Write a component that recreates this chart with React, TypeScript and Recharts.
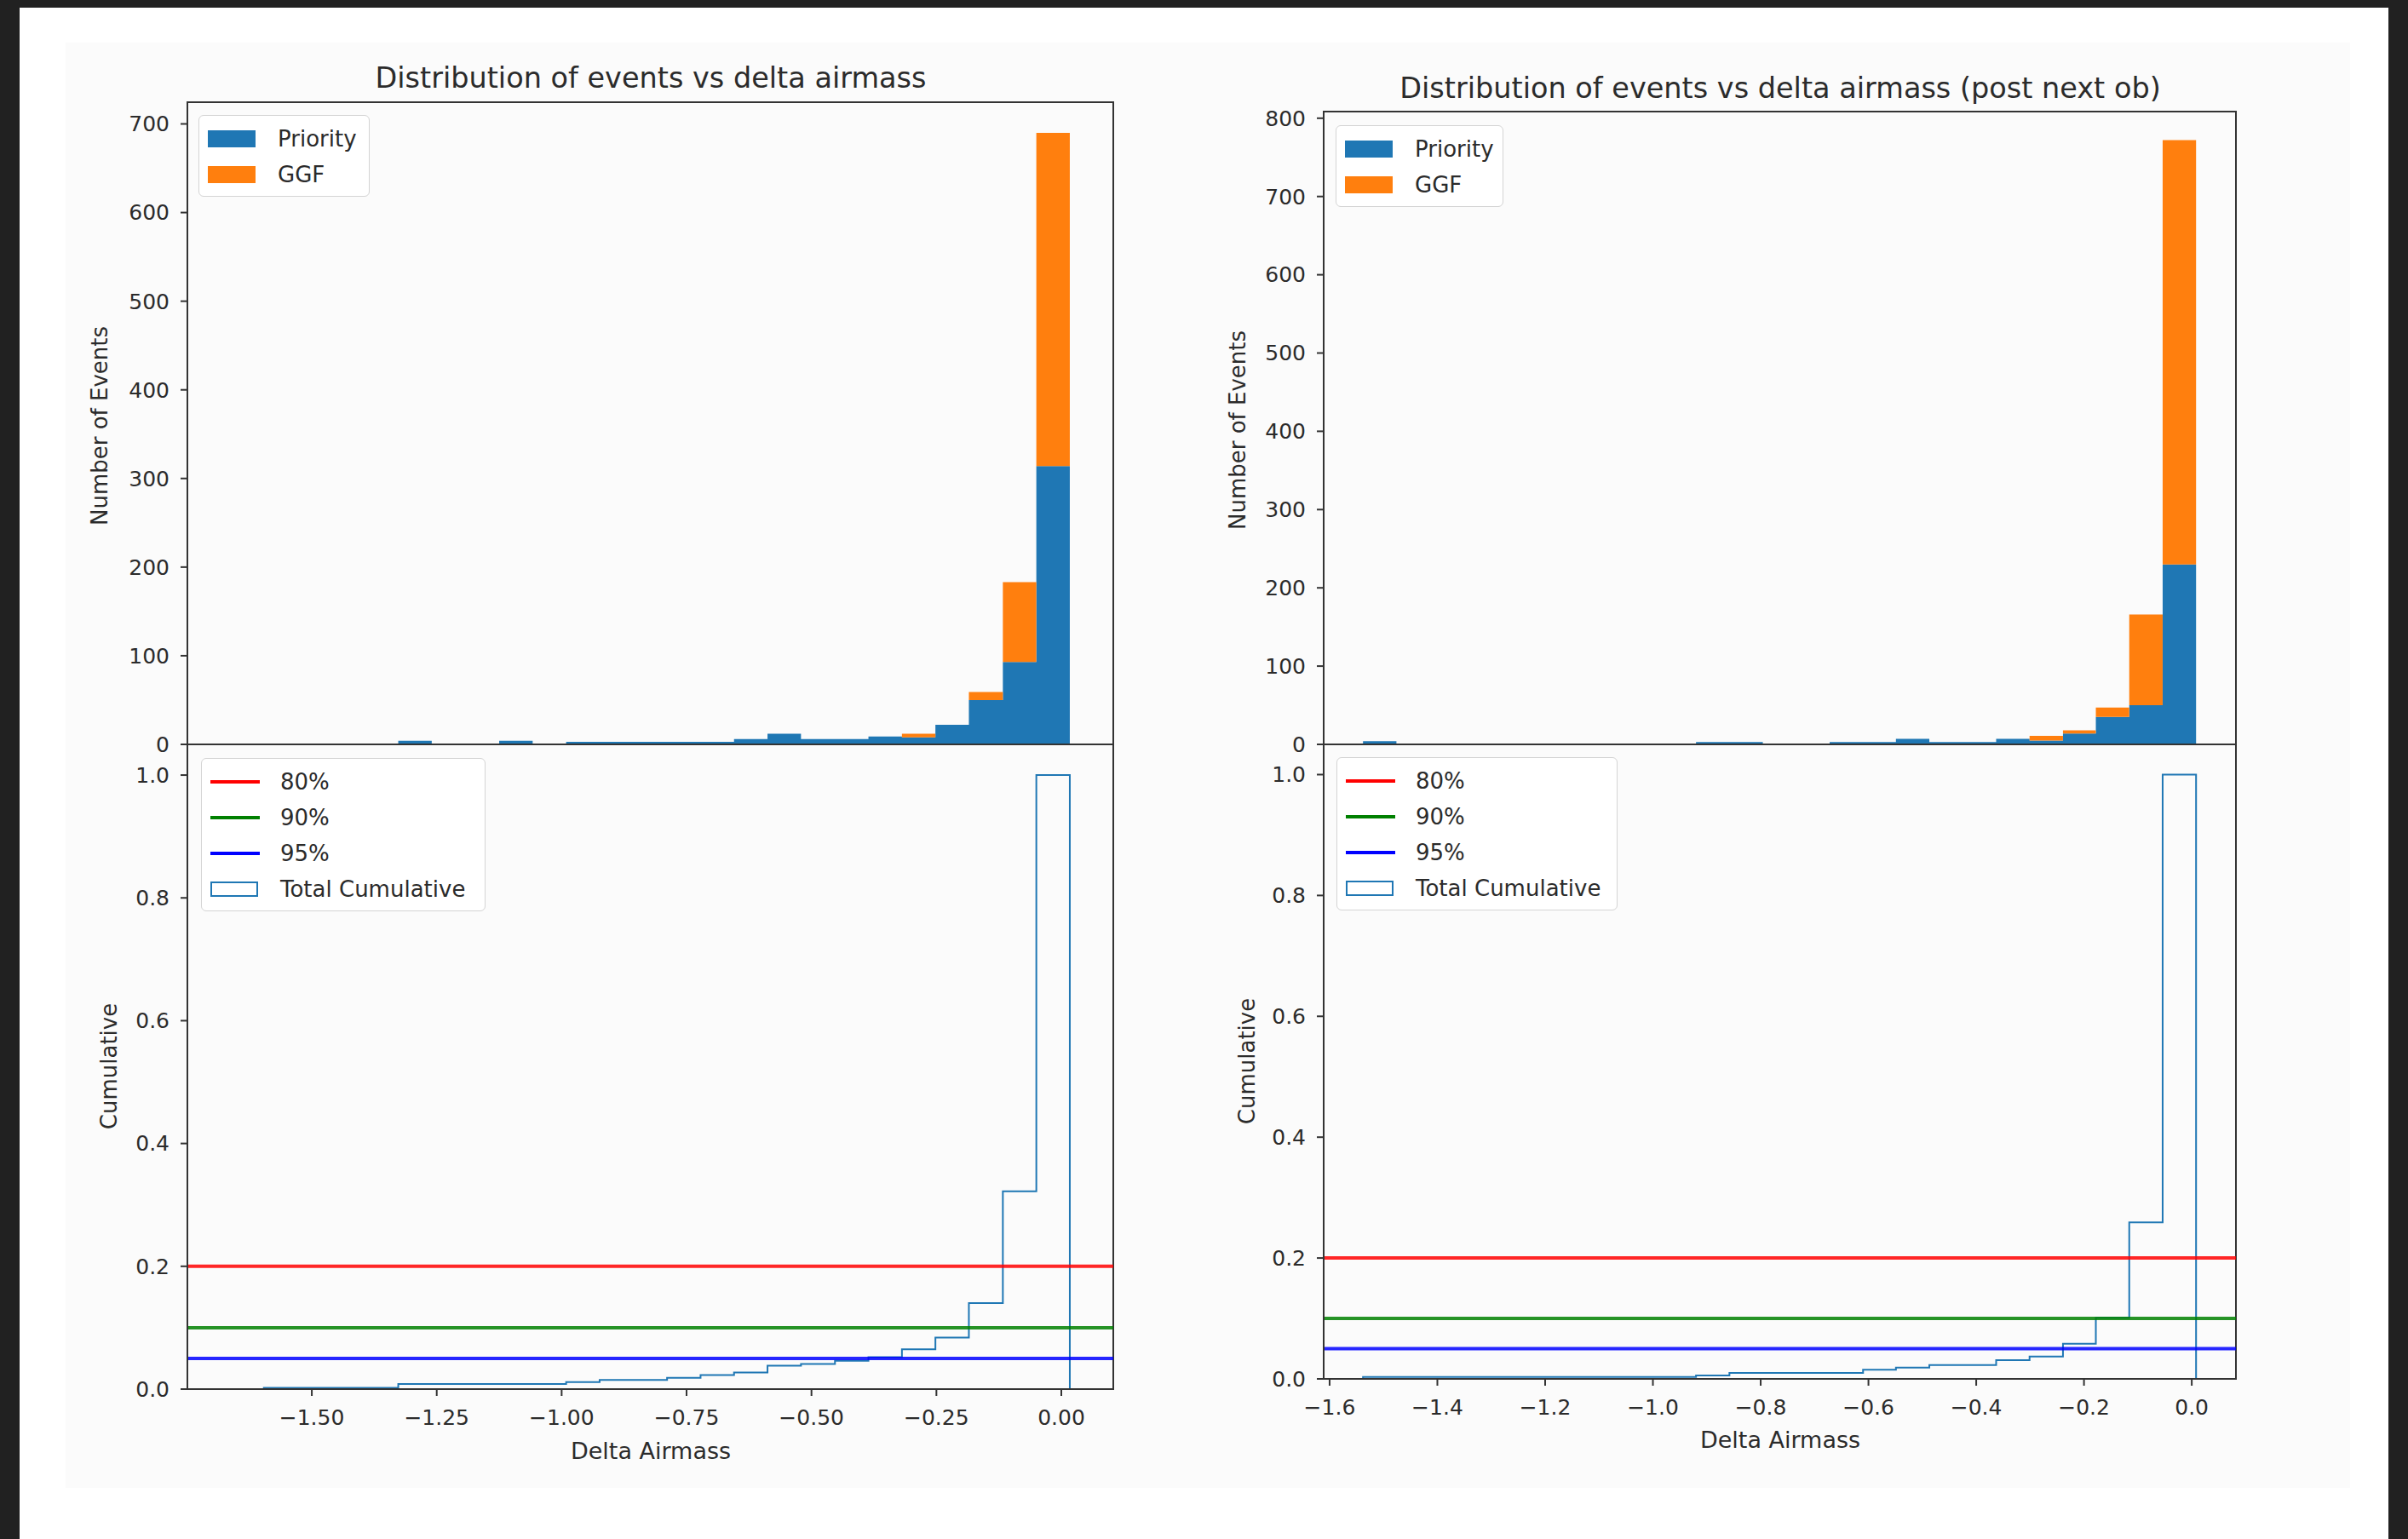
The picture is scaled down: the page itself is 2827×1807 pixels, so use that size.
import React from "react";
import {
  Area,
  ComposedChart,
  Legend,
  Line,
  ReferenceArea,
  ReferenceLine,
  XAxis,
  YAxis,
} from "recharts";

// bin edges (25 bins each)
const LEFT_EDGES = [
  -1.663, -1.596, -1.529, -1.461, -1.394, -1.327, -1.26, -1.193, -1.125, -1.058,
  -0.991, -0.924, -0.857, -0.789, -0.722, -0.655, -0.588, -0.521, -0.453, -0.386,
  -0.319, -0.252, -0.185, -0.117, -0.05, 0.017,
];
const LEFT_PRIORITY = [0, 0, 0, 0, 0, 4, 0, 0, 4, 0, 3, 3, 3, 3, 3, 6, 12, 6, 6, 9, 8, 22, 50, 93, 314];
const LEFT_GGF = [0, 0, 0, 0, 0, 0, 0, 0, 0, 0, 0, 0, 0, 0, 0, 0, 0, 0, 0, 0, 4, 0, 9, 90, 376];
const LEFT_CUMULATIVE = [
  null, 0.002, 0.002, 0.002, 0.002, 0.0083, 0.0083, 0.0083, 0.0083, 0.0083, 0.0115, 0.0148, 0.0148,
  0.0185, 0.023, 0.027, 0.038, 0.041, 0.046, 0.052, 0.065, 0.084, 0.14, 0.322, 1.0,
];

const RIGHT_EDGES = [
  -1.538, -1.476, -1.414, -1.352, -1.291, -1.229, -1.167, -1.105, -1.043, -0.981,
  -0.92, -0.858, -0.796, -0.734, -0.672, -0.61, -0.549, -0.487, -0.425, -0.363,
  -0.301, -0.239, -0.178, -0.116, -0.054, 0.008,
];
const RIGHT_PRIORITY = [4, 0, 0, 0, 0, 0, 0, 0, 0, 0, 3, 3, 0, 0, 3, 3, 7, 3, 3, 7, 5, 14, 35, 50, 230];
const RIGHT_GGF = [0, 0, 0, 0, 0, 0, 0, 0, 0, 0, 0, 0, 0, 0, 0, 0, 0, 0, 0, 0, 6, 4, 12, 116, 542];
const RIGHT_CUMULATIVE = [
  0.003, 0.003, 0.003, 0.003, 0.003, 0.003, 0.003, 0.003, 0.003, 0.003, 0.0056, 0.01,
  0.01, 0.01, 0.01, 0.015, 0.0186, 0.023, 0.023, 0.031, 0.037, 0.058, 0.101, 0.259, 1.0,
];

const LEFT_X_TICKS = [-1.5, -1.25, -1, -0.75, -0.5, -0.25, 0];
const RIGHT_X_TICKS = [-1.6, -1.4, -1.2, -1.0, -0.8, -0.6, -0.4, -0.2, 0];
const LEFT_COUNT_TICKS = [0, 100, 200, 300, 400, 500, 600, 700];
const RIGHT_COUNT_TICKS = [0, 100, 200, 300, 400, 500, 600, 700, 800];
const CUM_TICKS = [0, 0.2, 0.4, 0.6, 0.8, 1.0];

const THRESHOLDS = [
  { label: "80%", value: 0.2, color: "#ff0000" },
  { label: "90%", value: 0.1, color: "#008000" },
  { label: "95%", value: 0.05, color: "#0000ff" },
];

const FONT = '"DejaVu Sans", Verdana, sans-serif';
const INK = "#2b2b2b";
const SPINE = "#333";
const BLUE = "#1f77b4";
const ORANGE = "#ff7f0e";
const Y_AXIS_W = 110;
const PAD = 20;

const minus = (s: string) => s.replace("-", "\u2212");

function histRows(edges: number[], pri: number[], ggf: number[]) {
  return edges.map((x, i) => {
    const k = Math.min(i, pri.length - 1);
    return { x, priority: pri[k], ggf: ggf[k] };
  });
}

function cumRows(edges: number[], cum: (number | null)[]) {
  const rows: { x: number; c: number }[] = [];
  cum.forEach((c, i) => {
    if (c == null) return;
    if (rows.length === 0) rows.push({ x: edges[i], c: 0 });
    rows.push({ x: edges[i], c });
  });
  const end = edges[edges.length - 1];
  rows.push({ x: end, c: cum[cum.length - 1] as number });
  rows.push({ x: end, c: 0 });
  return rows;
}

type Entry = { label: string; color: string; kind: "patch" | "line" | "box" };

function LegendBox({ entries, width }: { entries: Entry[]; width: number }) {
  return (
    <div
      style={{
        width,
        boxSizing: "border-box",
        background: "rgba(255,255,255,0.85)",
        border: "1.5px solid #d4d4d4",
        borderRadius: 6,
        padding: "6px 0 4px 10px",
        fontFamily: FONT,
        fontSize: 26,
        color: INK,
      }}
    >
      {entries.map((e) => (
        <div key={e.label} style={{ display: "flex", alignItems: "center", height: 42 }}>
          <div style={{ width: 60, height: 20, display: "flex", alignItems: "center" }}>
            {e.kind === "patch" && <div style={{ width: 56, height: 20, background: e.color }} />}
            {e.kind === "line" && <div style={{ width: 58, height: 4, background: e.color }} />}
            {e.kind === "box" && (
              <div style={{ width: 56, height: 18, border: `2px solid ${e.color}`, boxSizing: "border-box" }} />
            )}
          </div>
          <span style={{ marginLeft: 22, whiteSpace: "nowrap" }}>{e.label}</span>
        </div>
      ))}
    </div>
  );
}

const HIST_LEGEND: Entry[] = [
  { label: "Priority", color: BLUE, kind: "patch" },
  { label: "GGF", color: ORANGE, kind: "patch" },
];
const CUM_LEGEND: Entry[] = [
  ...THRESHOLDS.map((t) => ({ label: t.label, color: t.color, kind: "line" as const })),
  { label: "Total Cumulative", color: BLUE, kind: "box" },
];

type Box = { x: number; y: number; w: number; h: number };

const tickStyle = { fontSize: 25, fill: INK, fontFamily: FONT };

function HistPanel(props: {
  box: Box;
  edges: number[];
  priority: number[];
  ggf: number[];
  xDomain: [number, number];
  yMax: number;
  yTicks: number[];
  legend: { left: number; top: number; width: number };
}) {
  const { box, xDomain, yMax } = props;
  const data = histRows(props.edges, props.priority, props.ggf);
  return (
    <div style={{ position: "absolute", left: box.x - Y_AXIS_W, top: box.y - PAD }}>
      <ComposedChart
        width={box.w + Y_AXIS_W + PAD}
        height={box.h + PAD * 2}
        data={data}
        margin={{ top: PAD, right: PAD, bottom: PAD, left: 0 }}
      >
        <XAxis type="number" dataKey="x" domain={xDomain} allowDataOverflow hide />
        <YAxis
          type="number"
          domain={[0, yMax]}
          ticks={props.yTicks}
          interval={0}
          allowDataOverflow
          width={Y_AXIS_W}
          tick={tickStyle}
          tickSize={8}
          tickMargin={13}
          axisLine={{ stroke: SPINE, strokeWidth: 2 }}
          tickLine={{ stroke: SPINE, strokeWidth: 2 }}
        />
        <Area type="stepAfter" dataKey="priority" stackId="h" fill={BLUE} fillOpacity={1} stroke="none" isAnimationActive={false} />
        <Area type="stepAfter" dataKey="ggf" stackId="h" fill={ORANGE} fillOpacity={1} stroke="none" isAnimationActive={false} />
        <ReferenceArea x1={xDomain[0]} x2={xDomain[1]} y1={0} y2={yMax} fill="none" stroke={SPINE} strokeWidth={2} ifOverflow="visible" />
        <Legend
          layout="horizontal"
          verticalAlign="middle"
          align="center"
          wrapperStyle={{ left: props.legend.left - box.x + Y_AXIS_W, top: props.legend.top - box.y + PAD, width: props.legend.width }}
          content={() => <LegendBox entries={HIST_LEGEND} width={props.legend.width} />}
        />
      </ComposedChart>
    </div>
  );
}

function CumPanel(props: {
  box: Box;
  edges: number[];
  cumulative: (number | null)[];
  xDomain: [number, number];
  xTicks: number[];
  digits: number;
  legend: { left: number; top: number; width: number };
}) {
  const { box, xDomain } = props;
  const yMax = 1.05;
  const data = cumRows(props.edges, props.cumulative);
  return (
    <div style={{ position: "absolute", left: box.x - Y_AXIS_W, top: box.y - PAD }}>
      <ComposedChart
        width={box.w + Y_AXIS_W + PAD}
        height={box.h + PAD + 80}
        data={data}
        margin={{ top: PAD, right: PAD, bottom: 0, left: 0 }}
      >
        <XAxis
          type="number"
          dataKey="x"
          domain={xDomain}
          ticks={props.xTicks}
          allowDataOverflow
          height={80}
          interval={0}
          tick={tickStyle}
          tickSize={8}
          tickMargin={16}
          tickFormatter={(v: number) => minus(v.toFixed(props.digits))}
          axisLine={{ stroke: SPINE, strokeWidth: 2 }}
          tickLine={{ stroke: SPINE, strokeWidth: 2 }}
        />
        <YAxis
          type="number"
          domain={[0, yMax]}
          ticks={CUM_TICKS}
          interval={0}
          allowDataOverflow
          width={Y_AXIS_W}
          tick={tickStyle}
          tickSize={8}
          tickMargin={13}
          tickFormatter={(v: number) => v.toFixed(1)}
          axisLine={{ stroke: SPINE, strokeWidth: 2 }}
          tickLine={{ stroke: SPINE, strokeWidth: 2 }}
        />
        <Line type="stepAfter" dataKey="c" stroke={BLUE} strokeWidth={2} dot={false} isAnimationActive={false} />
        {THRESHOLDS.map((t) => (
          <ReferenceLine key={t.label} y={t.value} stroke={t.color} strokeWidth={4} strokeOpacity={0.85} />
        ))}
        <ReferenceArea x1={xDomain[0]} x2={xDomain[1]} y1={0} y2={yMax} fill="none" stroke={SPINE} strokeWidth={2} ifOverflow="visible" />
        <Legend
          layout="horizontal"
          verticalAlign="middle"
          align="center"
          wrapperStyle={{ left: props.legend.left - box.x + Y_AXIS_W, top: props.legend.top - box.y + PAD, width: props.legend.width }}
          content={() => <LegendBox entries={CUM_LEGEND} width={props.legend.width} />}
        />
      </ComposedChart>
    </div>
  );
}

function Label({ x, y, size, text, rotate }: { x: number; y: number; size: number; text: string; rotate?: boolean }) {
  return (
    <div
      style={{
        position: "absolute",
        left: x,
        top: y,
        transform: `translate(-50%, -50%)${rotate ? " rotate(-90deg)" : ""}`,
        fontFamily: FONT,
        fontSize: size,
        lineHeight: 1,
        color: INK,
        whiteSpace: "nowrap",
      }}
    >
      {text}
    </div>
  );
}

export default function App() {
  return (
    <div style={{ position: "absolute", left: 0, top: 0, width: 2827, height: 1807, background: "#fff", overflow: "hidden" }}>
      <div style={{ position: "absolute", left: 0, top: 0, width: 2827, height: 9, background: "#212121" }} />
      <div style={{ position: "absolute", left: 0, top: 0, width: 23, height: 1807, background: "#212121" }} />
      <div style={{ position: "absolute", left: 2804, top: 0, width: 23, height: 1807, background: "#212121" }} />
      <div style={{ position: "absolute", left: 77, top: 50, width: 2682, height: 1697, background: "#fbfbfb" }} />

      <Label x={764} y={92} size={33.5} text="Distribution of events vs delta airmass" />
      <Label x={2090} y={104} size={33.5} text="Distribution of events vs delta airmass (post next ob)" />
      <Label x={117} y={500} size={26} text="Number of Events" rotate />
      <Label x={128} y={1252} size={26} text="Cumulative" rotate />
      <Label x={1453} y={505} size={26} text="Number of Events" rotate />
      <Label x={1464} y={1246} size={26} text="Cumulative" rotate />
      <Label x={764} y={1703} size={27} text="Delta Airmass" />
      <Label x={2090} y={1690} size={27} text="Delta Airmass" />

      <HistPanel
        box={{ x: 220, y: 120, w: 1087, h: 754 }}
        edges={LEFT_EDGES}
        priority={LEFT_PRIORITY}
        ggf={LEFT_GGF}
        xDomain={[-1.749, 0.104]}
        yMax={724.5}
        yTicks={LEFT_COUNT_TICKS}
        legend={{ left: 233, top: 135, width: 201 }}
      />
      <CumPanel
        box={{ x: 220, y: 874, w: 1087, h: 757 }}
        edges={LEFT_EDGES}
        cumulative={LEFT_CUMULATIVE}
        xDomain={[-1.749, 0.104]}
        xTicks={LEFT_X_TICKS}
        digits={2}
        legend={{ left: 236, top: 890, width: 334 }}
      />
      <HistPanel
        box={{ x: 1554, y: 131, w: 1071, h: 743 }}
        edges={RIGHT_EDGES}
        priority={RIGHT_PRIORITY}
        ggf={RIGHT_GGF}
        xDomain={[-1.611, 0.082]}
        yMax={808.5}
        yTicks={RIGHT_COUNT_TICKS}
        legend={{ left: 1568, top: 147, width: 197 }}
      />
      <CumPanel
        box={{ x: 1554, y: 874, w: 1071, h: 745 }}
        edges={RIGHT_EDGES}
        cumulative={RIGHT_CUMULATIVE}
        xDomain={[-1.611, 0.082]}
        xTicks={RIGHT_X_TICKS}
        digits={1}
        legend={{ left: 1569, top: 889, width: 330 }}
      />
    </div>
  );
}
